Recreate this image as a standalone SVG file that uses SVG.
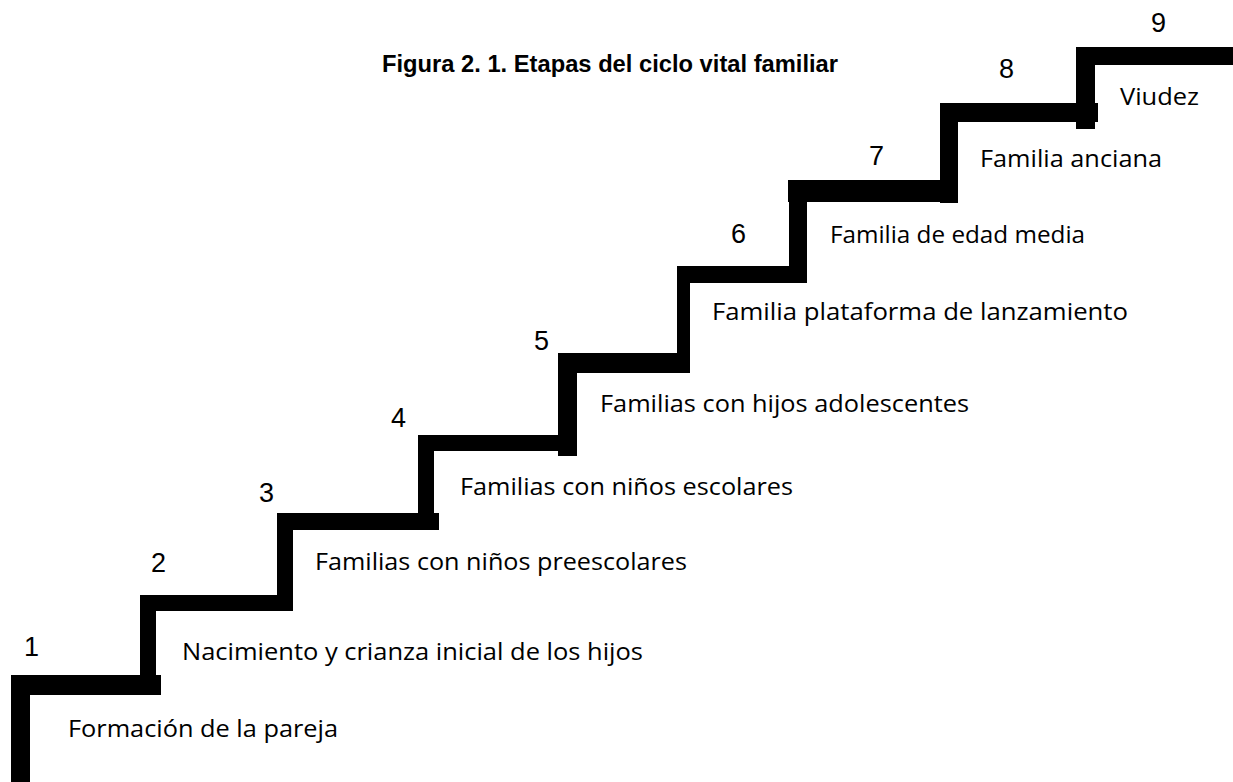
<svg xmlns="http://www.w3.org/2000/svg" width="1233" height="782" viewBox="0 0 1233 782">
  <style>
    .bar { fill: #000; }
    .num { font-family: "Liberation Sans", Arial, sans-serif; font-size: 27px; fill: #000; }
    .lbl { font-family: "Open Sans", "Noto Sans", sans-serif; font-size: 24px; fill: #000; }
    .title { font-family: "Liberation Sans", Arial, sans-serif; font-size: 23.5px; font-weight: bold; fill: #000; }
  </style>
  <rect width="1233" height="782" fill="#fff"/>
  <text class="title" x="382" y="72" textLength="456" lengthAdjust="spacingAndGlyphs">Figura 2. 1. Etapas del ciclo vital familiar</text>

  <g id="staircase">
    <rect class="bar" x="11" y="675" width="19" height="107"/>
    <rect class="bar" x="11" y="675" width="150" height="20"/>
    <rect class="bar" x="140" y="595" width="16" height="100"/>
    <rect class="bar" x="140" y="595" width="153" height="16"/>
    <rect class="bar" x="277" y="513" width="16" height="97"/>
    <rect class="bar" x="277" y="513" width="162" height="17"/>
    <rect class="bar" x="418" y="435" width="16" height="95"/>
    <rect class="bar" x="418" y="435" width="159" height="16"/>
    <rect class="bar" x="558" y="353" width="19" height="103"/>
    <rect class="bar" x="558" y="353" width="132" height="20"/>
    <rect class="bar" x="677" y="266" width="13" height="107"/>
    <rect class="bar" x="677" y="266" width="130" height="17"/>
    <rect class="bar" x="789" y="180" width="18" height="103"/>
    <rect class="bar" x="788" y="180" width="170" height="22"/>
    <rect class="bar" x="940" y="103" width="18" height="100"/>
    <rect class="bar" x="940" y="103" width="158" height="19"/>
    <rect class="bar" x="1076" y="47" width="19" height="82"/>
    <rect class="bar" x="1076" y="47" width="157" height="18"/>
  </g>

  <g id="stage1">
    <text class="num" x="24" y="656">1</text>
    <text class="lbl" x="68" y="737" textLength="270" lengthAdjust="spacingAndGlyphs">Formación de la pareja</text>
  </g>
  <g id="stage2">
    <text class="num" x="151" y="572">2</text>
    <text class="lbl" x="182" y="660" textLength="461" lengthAdjust="spacingAndGlyphs">Nacimiento y crianza inicial de los hijos</text>
  </g>
  <g id="stage3">
    <text class="num" x="259" y="502">3</text>
    <text class="lbl" x="315" y="570" textLength="372" lengthAdjust="spacingAndGlyphs">Familias con niños preescolares</text>
  </g>
  <g id="stage4">
    <text class="num" x="391" y="427">4</text>
    <text class="lbl" x="460" y="495" textLength="333" lengthAdjust="spacingAndGlyphs">Familias con niños escolares</text>
  </g>
  <g id="stage5">
    <text class="num" x="534" y="350">5</text>
    <text class="lbl" x="600" y="412" textLength="369" lengthAdjust="spacingAndGlyphs">Familias con hijos adolescentes</text>
  </g>
  <g id="stage6">
    <text class="num" x="731" y="243">6</text>
    <text class="lbl" x="712" y="320" textLength="416" lengthAdjust="spacingAndGlyphs">Familia plataforma de lanzamiento</text>
  </g>
  <g id="stage7">
    <text class="num" x="869" y="165">7</text>
    <text class="lbl" x="830" y="243" textLength="255" lengthAdjust="spacingAndGlyphs">Familia de edad media</text>
  </g>
  <g id="stage8">
    <text class="num" x="999" y="78">8</text>
    <text class="lbl" x="980" y="167" textLength="182" lengthAdjust="spacingAndGlyphs">Familia anciana</text>
  </g>
  <g id="stage9">
    <text class="num" x="1151" y="32">9</text>
    <text class="lbl" x="1120" y="105" textLength="79" lengthAdjust="spacingAndGlyphs">Viudez</text>
  </g>
</svg>
